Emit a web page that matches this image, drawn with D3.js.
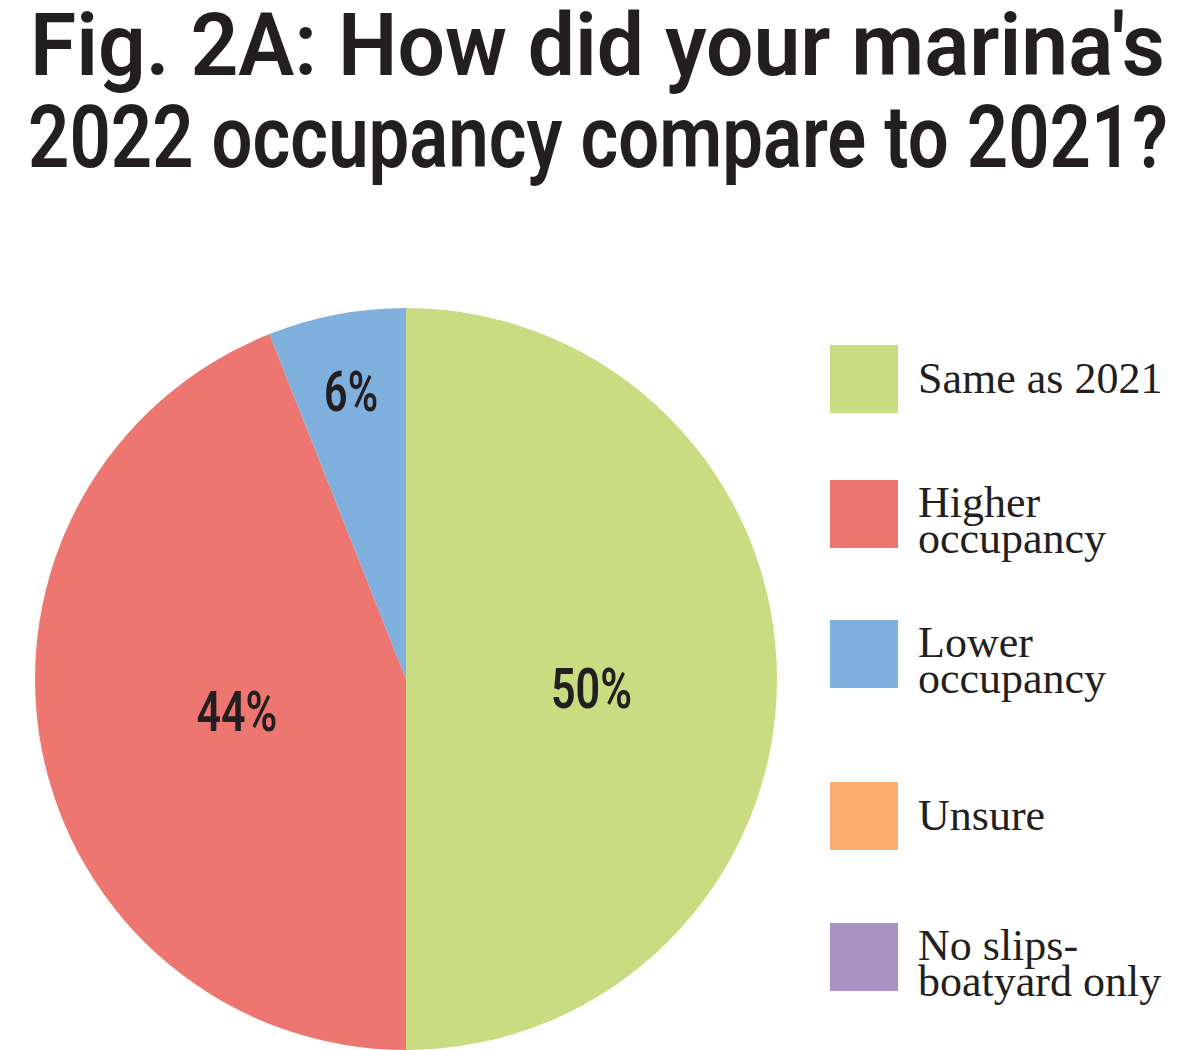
<!DOCTYPE html>
<html>
<head>
<meta charset="utf-8">
<script src="https://cdn.jsdelivr.net/npm/d3@7"></script>
<style>
  body { margin: 0; background: #fff; }
</style>
</head>
<body>
<div id="chart"></div>
<script>
// chart data
const categories = ['Same as 2021', 'Higher occupancy', 'Lower occupancy', 'Unsure', 'No slips-boatyard only']
const legendLines = [['Same as 2021'], ['Higher', 'occupancy'], ['Lower', 'occupancy'], ['Unsure'], ['No slips-', 'boatyard only']]
const values = [50, 44, 6, 0, 0]
const colors = ['#c8dc81', '#ee7670', '#80b0de', '#f9ae70', '#a893c4']
const titleLines = ["Fig. 2A: How did your marina's", '2022 occupancy compare to 2021?']

const width = 1200,
  height = 1050

const svg = d3
  .select('#chart')
  .append('svg')
  .attr('width', width)
  .attr('height', height)

const headFont = "Roboto, 'DejaVu Sans Condensed', sans-serif"

// title, squeezed to the width of the condensed original
const titleSpots = [
  { x: 30, y: 75, len: 1135 },
  { x: 28, y: 167, len: 1140 },
]
svg
  .selectAll('text.title')
  .data(titleLines)
  .join('text')
  .attr('class', 'title')
  .attr('x', (d, i) => titleSpots[i].x)
  .attr('y', (d, i) => titleSpots[i].y)
  .attr('textLength', (d, i) => titleSpots[i].len)
  .attr('lengthAdjust', 'spacingAndGlyphs')
  .style('font-family', headFont)
  .style('font-weight', 600)
  .style('font-size', '88px')
  .style('fill', '#231f20')
  .text((d) => d)

// pie
const cx = 406,
  cy = 679,
  radius = 371

const pie = d3.pie().sort(null).value((d) => d)
const arc = d3.arc().innerRadius(0).outerRadius(radius)
const arcs = pie(values)

const g = svg.append('g').attr('transform', `translate(${cx}, ${cy})`)

g.selectAll('path')
  .data(arcs.filter((d) => d.data > 0))
  .join('path')
  .attr('d', arc)
  .attr('fill', (d) => colors[d.index])

// label positions inside slices (radius factor + small vertical nudge per slice)
const labelRadius = [0.5, 0.464, 0.79]
const labelNudge = [9, 0, 0]
const labelPos = (d) => {
  const r = radius * labelRadius[d.index]
  return d3.arc().innerRadius(r).outerRadius(r).centroid(d)
}

g.selectAll('text.pct')
  .data(arcs.filter((d) => d.data > 0))
  .join('text')
  .attr('class', 'pct')
  .attr('x', (d) => labelPos(d)[0])
  .attr('y', (d) => labelPos(d)[1] + labelNudge[d.index])
  .attr('dy', '0.36em')
  .attr('text-anchor', 'middle')
  .attr('textLength', (d) => (d.data + '%').length * 27)
  .attr('lengthAdjust', 'spacingAndGlyphs')
  .style('font-family', headFont)
  .style('font-weight', 600)
  .style('font-size', '56px')
  .style('fill', '#231f20')
  .text((d) => d.data + '%')

// legend
const legendY = [345, 480, 620, 782, 923]
const legend = svg
  .selectAll('g.legend')
  .data(categories)
  .join('g')
  .attr('class', 'legend')
  .attr('transform', (d, i) => `translate(830, ${legendY[i]})`)

legend
  .append('rect')
  .attr('width', 68)
  .attr('height', 68)
  .attr('fill', (d, i) => colors[i])

legend.each(function (d, i) {
  const lines = legendLines[i]
  const t = d3
    .select(this)
    .append('text')
    .attr('x', 88)
    .attr('y', lines.length === 1 ? 48 : 37)
    .style('font-family', "'Liberation Serif', 'DejaVu Serif', serif")
    .style('font-size', '44px')
    .style('fill', '#231f20')
  lines.forEach((line, j) => {
    t.append('tspan')
      .attr('x', 88)
      .attr('dy', j === 0 ? 0 : 36)
      .text(line)
  })
})
</script>
</body>
</html>
